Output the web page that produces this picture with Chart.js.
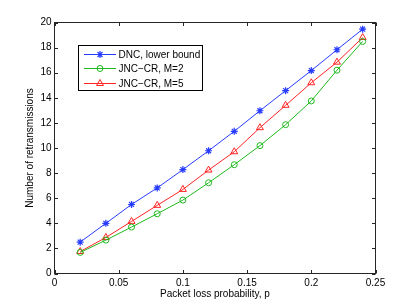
<!DOCTYPE html>
<html>
<head>
<meta charset="utf-8">
<script src="https://cdn.jsdelivr.net/npm/chart.js@4/dist/chart.umd.min.js"></script>
<style>
  html, body { margin: 0; padding: 0; background: #ffffff; }
  #wrap { width: 415px; height: 308px; }
</style>
</head>
<body>
<div id="wrap"><canvas id="c" width="415" height="308"></canvas></div>
<script>
// ---- data ----
const xValues = [0.02, 0.04, 0.06, 0.08, 0.10, 0.12, 0.14, 0.16, 0.18, 0.20, 0.22, 0.24];
const dncLowerBound = [2.50, 4.00, 5.50, 6.82, 8.28, 9.78, 11.33, 12.97, 14.57, 16.17, 17.83, 19.47];
const jncCrM2 = [1.68, 2.66, 3.70, 4.76, 5.85, 7.23, 8.67, 10.19, 11.86, 13.75, 16.20, 18.49];
const jncCrM5 = [1.75, 2.87, 4.15, 5.43, 6.70, 8.24, 9.70, 11.62, 13.40, 15.20, 16.84, 18.80];
const seriesLabels = ['DNC, lower bound', 'JNC\u2212CR, M=2', 'JNC\u2212CR, M=5'];
const xTickValues = [0, 0.05, 0.1, 0.15, 0.2, 0.25];
const yTickValues = [0, 2, 4, 6, 8, 10, 12, 14, 16, 18, 20];
const xAxisTitle = 'Packet loss probability, p';
const yAxisTitle = 'Number of retransmissions';

const FONT = '"Liberation Sans", Arial, Helvetica, sans-serif';
const AXIS_COLOR = '#262626';

function pts(ys) { return xValues.map((x, i) => ({ x: x, y: ys[i] })); }

const blue = 'rgb(40,60,255)';
const green = 'rgb(30,185,30)';
const red = 'rgb(255,35,35)';

const datasets = [
  { label: seriesLabels[0], data: pts(dncLowerBound), borderColor: blue, backgroundColor: blue,
    pointStyle: 'star', pointRadius: 3.5, pointBorderColor: blue, pointBorderWidth: 1.2 },
  { label: seriesLabels[1], data: pts(jncCrM2), borderColor: green, backgroundColor: 'rgba(0,0,0,0)',
    pointStyle: 'circle', pointRadius: 3, pointBorderColor: green, pointBorderWidth: 1 },
  { label: seriesLabels[2], data: pts(jncCrM5), borderColor: red, backgroundColor: 'rgba(0,0,0,0)',
    pointStyle: 'triangle', pointRadius: 4, pointBorderColor: red, pointBorderWidth: 1 }
].map(d => Object.assign({ borderWidth: 1, tension: 0, fill: false, pointHoverRadius: d.pointRadius,
  pointBackgroundColor: 'rgba(0,0,0,0)' }, d));

// box + inward tick marks on all four sides (MATLAB style)
const boxPlugin = {
  id: 'matlabBox',
  afterDraw(chart) {
    const { ctx, chartArea: a, scales } = chart;
    const L = 3.5;
    ctx.save();
    ctx.strokeStyle = AXIS_COLOR;
    ctx.lineWidth = 1;
    ctx.beginPath();
    xTickValues.forEach(v => {
      const px = Math.round(scales.x.getPixelForValue(v)) + 0.5;
      ctx.moveTo(px, a.bottom); ctx.lineTo(px, a.bottom - L);
      ctx.moveTo(px, a.top); ctx.lineTo(px, a.top + L);
    });
    yTickValues.forEach(v => {
      const py = Math.round(scales.y.getPixelForValue(v)) + 0.5;
      ctx.moveTo(a.left, py); ctx.lineTo(a.left + L, py);
      ctx.moveTo(a.right, py); ctx.lineTo(a.right - L, py);
    });
    ctx.stroke();
    ctx.strokeRect(a.left, a.top, a.right - a.left, a.bottom - a.top);
    ctx.restore();
  }
};

// legend box inside the axes (north-west), drawn from dataset styles
const legendPlugin = {
  id: 'matlabLegend',
  afterDraw(chart) {
    const { ctx } = chart;
    const bx = 78.5, by = 45.5, bw = 124, bh = 45;
    ctx.save();
    ctx.fillStyle = '#ffffff';
    ctx.fillRect(bx, by, bw, bh);
    ctx.strokeStyle = '#000000';
    ctx.lineWidth = 1;
    ctx.strokeRect(bx, by, bw, bh);
    ctx.font = '10px ' + FONT;
    ctx.textBaseline = 'middle';
    ctx.textAlign = 'left';
    chart.data.datasets.forEach((ds, i) => {
      const y = Math.round(53.7 + i * 14.5) + 0.5;
      ctx.strokeStyle = ds.borderColor;
      ctx.lineWidth = 1;
      ctx.beginPath();
      ctx.moveTo(84, y); ctx.lineTo(116, y);
      ctx.stroke();
      ctx.lineWidth = ds.pointBorderWidth;
      ctx.fillStyle = ds.pointBackgroundColor;
      Chart.helpers.drawPoint(ctx, { pointStyle: ds.pointStyle, radius: ds.pointRadius, rotation: 0, borderWidth: ds.pointBorderWidth }, 100, y);
      ctx.fillStyle = '#000000';
      ctx.fillText(ds.label, 118.5, y + 0.5);
    });
    ctx.restore();
  }
};

new Chart(document.getElementById('c'), {
  type: 'line',
  data: { datasets: datasets },
  options: {
    responsive: false,
    animation: false,
    events: [],
    layout: { padding: { left: 0, right: 39.5, top: 22.5, bottom: 0 } },
    plugins: { legend: { display: false }, tooltip: { enabled: false } },
    scales: {
      x: {
        type: 'linear', min: 0, max: 0.25,
        afterBuildTicks(s) { s.ticks = xTickValues.map(v => ({ value: v })); },
        afterFit(s) { s.height = 34.5; },
        grid: { display: false, drawTicks: false },
        border: { display: false },
        ticks: { color: '#000', font: { family: FONT, size: 10 }, padding: 4, maxRotation: 0, autoSkip: false,
          callback: v => String(+v.toFixed(2)) },
        title: { display: true, text: xAxisTitle, color: '#000', font: { family: FONT, size: 10 }, padding: { top: 0, bottom: 8 } }
      },
      y: {
        type: 'linear', min: 0, max: 20,
        afterBuildTicks(s) { s.ticks = yTickValues.map(v => ({ value: v })); },
        afterFit(s) { s.width = 54.5; },
        grid: { display: false, drawTicks: false },
        border: { display: false },
        ticks: { color: '#000', font: { family: FONT, size: 10 }, padding: 3, autoSkip: false },
        title: { display: true, text: yAxisTitle, color: '#000', font: { family: FONT, size: 10 }, padding: { top: 24, bottom: 0 } }
      }
    }
  },
  plugins: [boxPlugin, legendPlugin]
});
</script>
</body>
</html>
